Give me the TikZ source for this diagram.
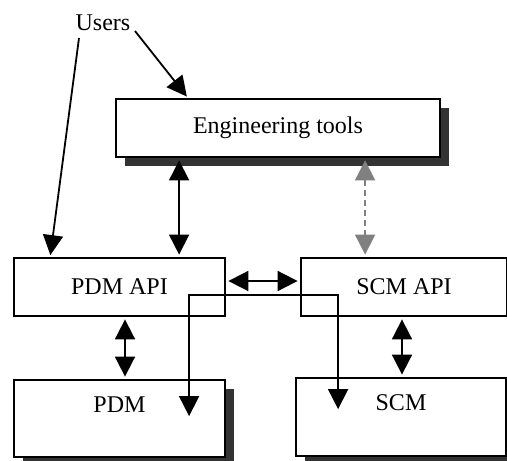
\documentclass[tikz,border=0pt]{standalone}
\usepackage{fontspec}
\setmainfont{Liberation Serif}
\usetikzlibrary{arrows.meta,calc,shadows}
\tikzset{
  box/.style={draw,line width=1.8pt,fill=white,inner sep=0pt,font=\fontsize{24}{28}\selectfont},
  shbox/.style={box,general shadow={fill=black!80,shadow xshift=9pt,shadow yshift=-9pt}},
  sgl/.style={line width=1.8pt,-{Triangle[length=20pt,width=20pt]},shorten >=2pt},
  dbl/.style={line width=1.8pt,{Triangle[length=20pt,width=20pt]}-{Triangle[length=20pt,width=20pt]},shorten <=2.5pt,shorten >=2.5pt},
}
\begin{document}
\begin{tikzpicture}[x=1pt,y=-1pt]
\useasboundingbox (0,0) rectangle (507,461);
% boxes
\node[shbox,minimum width=324pt,minimum height=58pt] (et) at (278,128) {Engineering tools};
\node[box,minimum width=211pt,minimum height=58pt] (pdmapi) at (119.5,287) {PDM API};
\node[box,minimum width=206pt,minimum height=58pt] (scmapi) at (404,287) {SCM API};
\node[shbox,minimum width=211pt,minimum height=77pt,text depth=27pt] (pdm) at (119.5,418.5) {PDM};
\node[shbox,minimum width=210pt,minimum height=78pt,text depth=28pt] (scm) at (401,417) {SCM};
\node[font=\fontsize{24}{28}\selectfont,inner sep=0pt] (users) at (103,23) {Users};
% users
\draw[sgl] ($(users.center)+(-24,15)$) -- ([xshift=37pt]pdmapi.north west);
\draw[sgl] ($(users.center)+(32,8)$) -- ([xshift=73pt]et.north west);
% links
\draw[dbl] ([xshift=64pt]et.south west) -- ([xshift=64pt]et.south west |- pdmapi.north);
\draw[dbl,gray,dash pattern=on 6pt off 4pt] ([xshift=250pt]et.south west) -- ([xshift=250pt]et.south west |- scmapi.north);
\draw[dbl] ([yshift=6pt]pdmapi.east) -- ([yshift=6pt]scmapi.west);
\draw[dbl] ([xshift=5.5pt]pdmapi.south) -- ([xshift=5.5pt]pdmapi.south |- pdm.north);
\draw[dbl] ([xshift=-2pt]scmapi.south) -- ([xshift=-2pt]scmapi.south |- scm.north);
\draw[dbl,shorten <=0pt,shorten >=0pt] ($(pdm.north west)+(176,37)$) -- ++(0,-121) -| ($(scm.north west)+(43,32)$);
\end{tikzpicture}
\end{document}
